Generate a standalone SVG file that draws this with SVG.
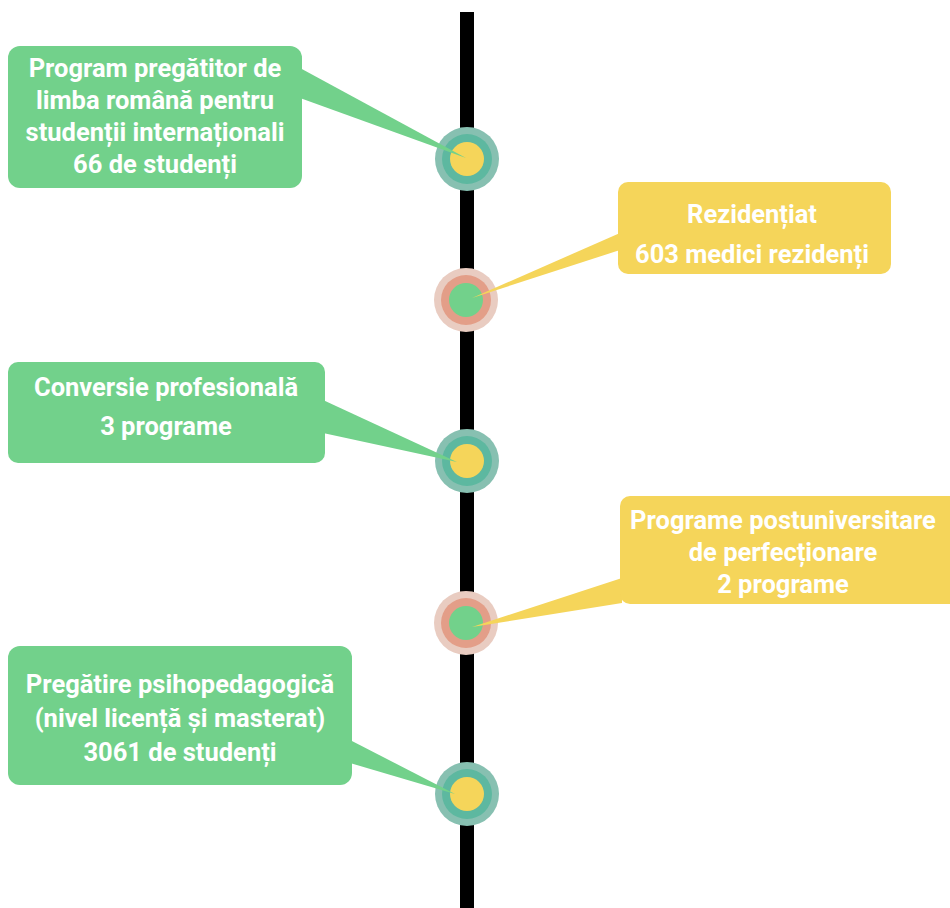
<svg xmlns="http://www.w3.org/2000/svg" width="950" height="908" viewBox="0 0 950 908">
<style>
.g{fill:#72D18B}
.y{fill:#F5D55A}
.t{font-family:Roboto,"Liberation Sans",sans-serif;font-weight:700;font-size:25.5px;fill:#fff;text-anchor:middle}
.o1{fill:#87C0B1}.m1{fill:#5DB8A0}.i1{fill:#F5D55A}
.o2{fill:#E9CCC1}.m2{fill:#E39E88}.i2{fill:#72D18B}
</style>
<rect x="460" y="12" width="14" height="900" fill="#000"/>
<g id="dots">
<g id="dot1"><circle cx="467" cy="159" r="32" class="o1"/><circle cx="467" cy="159" r="25" class="m1"/><circle cx="467" cy="159" r="17" class="i1"/></g>
<g id="dot2"><circle cx="466" cy="300" r="32" class="o2"/><circle cx="466" cy="300" r="25" class="m2"/><circle cx="466" cy="300" r="17" class="i2"/></g>
<g id="dot3"><circle cx="467" cy="461" r="32" class="o1"/><circle cx="467" cy="461" r="25" class="m1"/><circle cx="467" cy="461" r="17" class="i1"/></g>
<g id="dot4"><circle cx="466" cy="623" r="32" class="o2"/><circle cx="466" cy="623" r="25" class="m2"/><circle cx="466" cy="623" r="17" class="i2"/></g>
<g id="dot5"><circle cx="467" cy="794" r="32" class="o1"/><circle cx="467" cy="794" r="25" class="m1"/><circle cx="467" cy="794" r="17" class="i1"/></g>
</g>
<g id="connectors">
<polygon class="g" points="300,68 300,98 466,158"/>
<polygon class="y" points="620,233 620,250 472,298"/>
<polygon class="g" points="323,400 323,433 457,462"/>
<polygon class="y" points="622,578 622,603 472,627"/>
<polygon class="g" points="350,740 350,763 455,794"/>
</g>
<g id="n1"><rect x="8" y="46" width="294" height="142" rx="12" class="g"/>
<text class="t"><tspan x="155" y="77">Program pregătitor de</tspan><tspan x="155" y="109">limba română pentru</tspan><tspan x="155" y="141">studenții internaționali</tspan><tspan x="155" y="173">66 de studenți</tspan></text></g>
<g id="n2"><rect x="618" y="182" width="273" height="92" rx="10" class="y"/>
<text class="t"><tspan x="752" y="223">Rezidențiat</tspan><tspan x="752" y="263">603 medici rezidenți</tspan></text></g>
<g id="n3"><rect x="8" y="362" width="317" height="101" rx="10" class="g"/>
<text class="t"><tspan x="166" y="396">Conversie profesională</tspan><tspan x="166" y="435">3 programe</tspan></text></g>
<g id="n4"><rect x="620" y="496" width="340" height="108" rx="10" class="y"/>
<text class="t"><tspan x="783" y="529">Programe postuniversitare</tspan><tspan x="783" y="561">de perfecționare</tspan><tspan x="783" y="593">2 programe</tspan></text></g>
<g id="n5"><rect x="8" y="646" width="344" height="139" rx="12" class="g"/>
<text class="t"><tspan x="180" y="693">Pregătire psihopedagogică</tspan><tspan x="180" y="727">(nivel licență și masterat)</tspan><tspan x="180" y="761">3061 de studenți</tspan></text></g>
</svg>
